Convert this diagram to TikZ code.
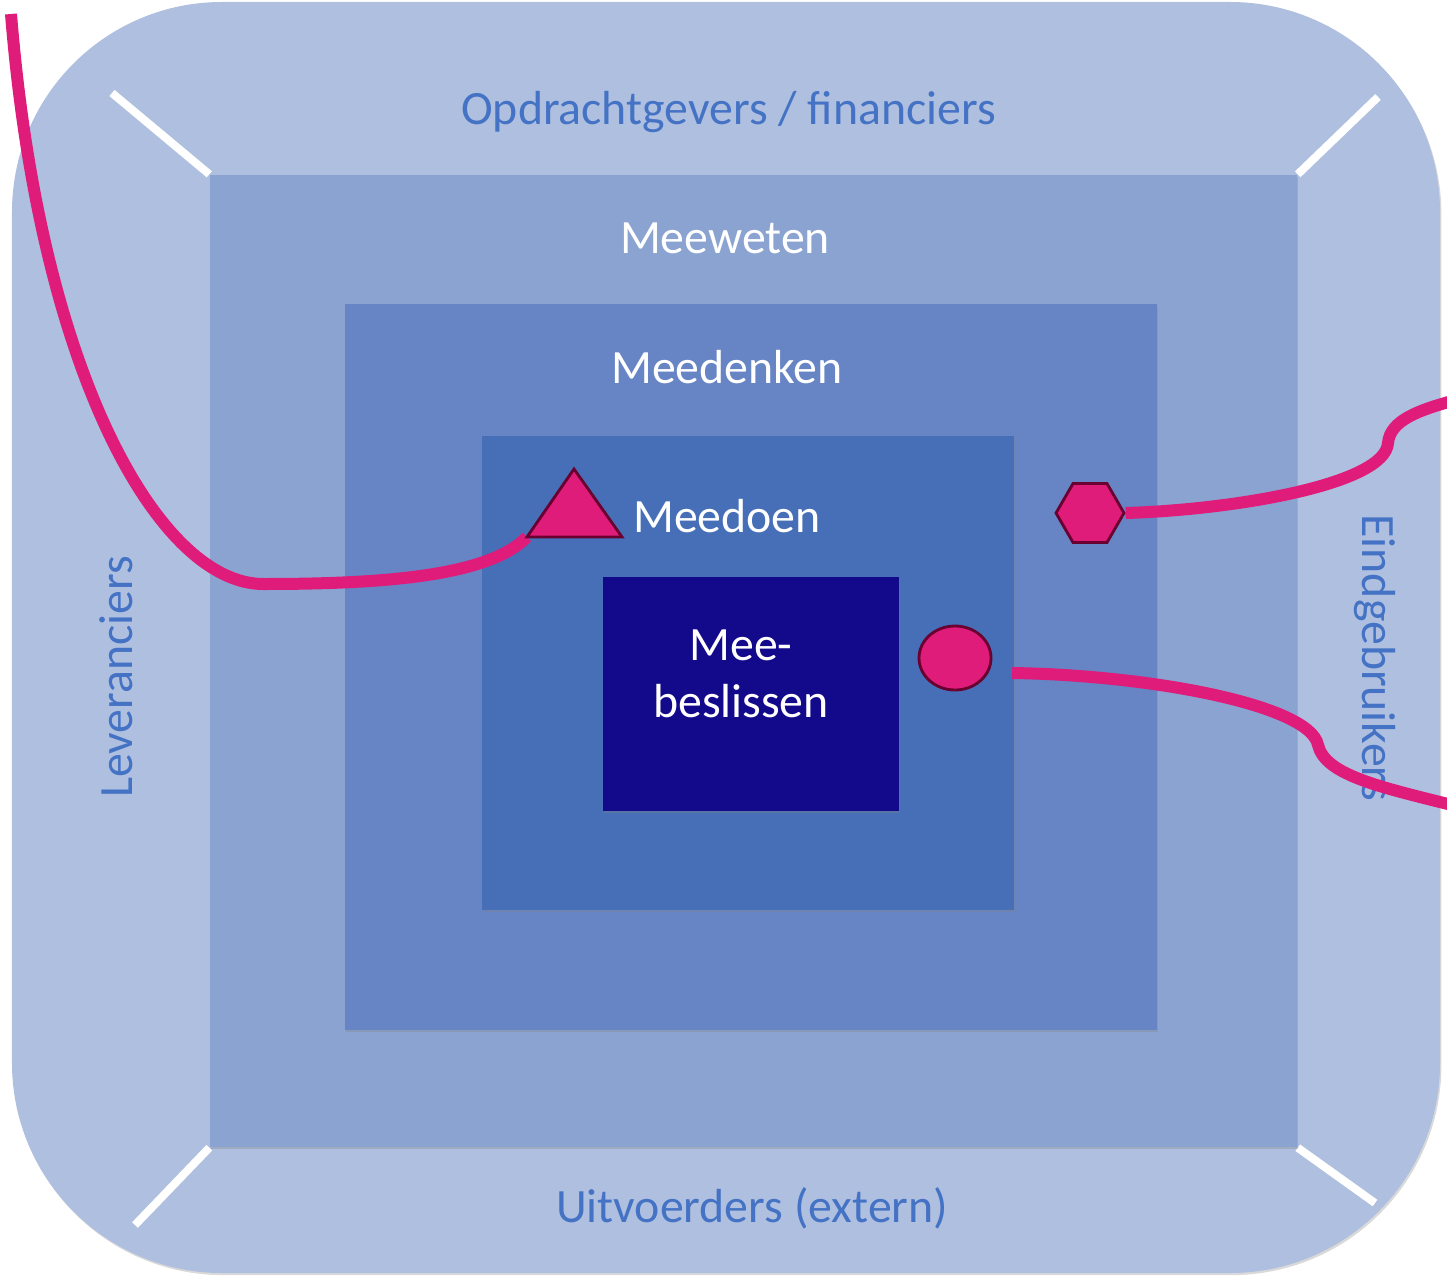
\documentclass[tikz,border=0pt]{standalone}
\usepackage{fontspec}
\setmainfont{Carlito}
\usepackage{xcolor}
\usepackage{tikz}
\usetikzlibrary{shapes, positioning, shadows, calc}

\definecolor{ringouter}{RGB}{175,191,223}
\definecolor{ringweten}{RGB}{139,163,209}
\definecolor{ringdenken}{RGB}{103,133,196}
\definecolor{ringdoen}{RGB}{70,111,183}
\definecolor{ringbeslis}{RGB}{19,9,139}
\definecolor{labelblue}{RGB}{68,114,196}
\definecolor{signpink}{RGB}{224,28,122}
\definecolor{markedge}{RGB}{105,0,48}

\pgfdeclarelayer{back}
\pgfdeclarelayer{zones}
\pgfdeclarelayer{wires}
\pgfsetlayers{back,zones,wires,main}

\begin{document}
\begin{tikzpicture}[
        zone/.style={rectangle, draw=none, inner sep=0pt, drop shadow={shadow xshift=0.4pt, shadow yshift=-0.6pt, opacity=0.3}},
        stakeholder/.style={text=labelblue, font=\fontsize{13.6}{16}\selectfont, inner sep=0pt},
        ring/.style={text=white, font=\fontsize{13.6}{16.4}\selectfont, inner sep=0pt, align=center},
        seam/.style={white, line width=0.08cm},
        thread/.style={draw=signpink, line width=0.12cm},
        marker/.style={fill=signpink, draw=markedge, line width=0.8pt, inner sep=0pt}
    ]
        \useasboundingbox (0,0) rectangle (14.47,12.75);

        \begin{pgfonlayer}{zones}
        \node[zone, fill=ringweten, minimum width=10.87cm, minimum height=9.72cm] (weten) at (7.535,6.14) {};
        \node[zone, fill=ringdenken, minimum width=8.12cm, minimum height=7.26cm] (denken) at (7.51,6.08) {};
        \node[zone, fill=ringdoen, minimum width=5.32cm, minimum height=4.74cm] (doen) at (7.48,6.02) {};
        \node[zone, fill=ringbeslis, minimum width=2.96cm, minimum height=2.34cm] (beslis) at (7.51,5.81) {};

        % stakeholders round the edge
        \node[stakeholder, anchor=base] (opdracht) at (7.285,11.50) {Opdrachtgevers / financiers};
        \node[stakeholder, anchor=base] (uitvoer) at (7.52,0.53) {Uitvoerders (extern)};
        \node[stakeholder, anchor=base, rotate=90] (lever) at (1.32,5.98) {Leveranciers};
        \node[stakeholder, anchor=base, rotate=-90] (eind) at (13.62,6.17) {Eindgebruikers};

        % levels of participation
        \node[ring, anchor=base] (wetenlbl) at (7.25,10.22) {Meeweten};
        \node[ring, anchor=base] (denkenlbl) at (7.27,8.92) {Meedenken};
        \node[ring, anchor=base] (doenlbl) at (7.27,7.43) {Meedoen};
        \node[ring] (beslislbl) at (7.41,6.01) {Mee-\\beslissen};
        \end{pgfonlayer}

        \begin{pgfonlayer}{back}
        \node[zone, fill=ringouter, rounded corners=2.1cm, minimum width=14.28cm, minimum height=12.71cm] (outer) at (7.26,6.375) {};
        \coordinate (seam-nw) at (1.12,11.82);
        \coordinate (seam-ne) at (13.78,11.78);
        \coordinate (seam-sw) at (1.35,0.50);
        \coordinate (seam-se) at (13.75,0.72);
        \draw[seam] (weten.north west) -- (seam-nw);
        \draw[seam] (weten.north east) -- (seam-ne);
        \draw[seam] (weten.south west) -- (seam-sw);
        \draw[seam] (weten.south east) -- (seam-se);
        \end{pgfonlayer}

        % markers
        \coordinate (tri-l) at (5.27,7.38);
        \coordinate (tri-t) at (5.74,8.06);
        \coordinate (tri-r) at (6.22,7.38);
        \filldraw[marker, line join=miter] (tri-l) -- (tri-t) -- (tri-r) -- cycle;
        \node[marker, regular polygon, regular polygon sides=6, minimum size=0.68cm] (hexa) at (10.90,7.62) {};
        \node[marker, ellipse, minimum width=0.72cm, minimum height=0.64cm] (dot) at (9.55,6.17) {};

        \begin{pgfonlayer}{wires}
        \coordinate (tail-a) at (0.11,12.61);
        \coordinate (tail-b) at (14.52,8.74);
        \coordinate (tail-c) at (10.12,6.02);
        \coordinate (tail-d) at (14.52,4.70);
        \draw[thread] (tail-a) .. controls (0.4,9.0) and (1.6,6.9) .. (2.64,6.91)
            .. controls (3.9,6.91) and (4.9,7.0) .. (tri-l);
        \draw[thread] (hexa.east) .. controls (12.3,7.65) and (13.85,7.9) .. (13.88,8.32)
            .. controls (13.9,8.55) and (14.2,8.65) .. (tail-b);
        \draw[thread] (tail-c) .. controls (11.5,6.0) and (13.1,5.7) .. (13.18,5.30)
            .. controls (13.25,5.0) and (13.8,4.88) .. (tail-d);
        \end{pgfonlayer}
    \end{tikzpicture}
\end{document}
